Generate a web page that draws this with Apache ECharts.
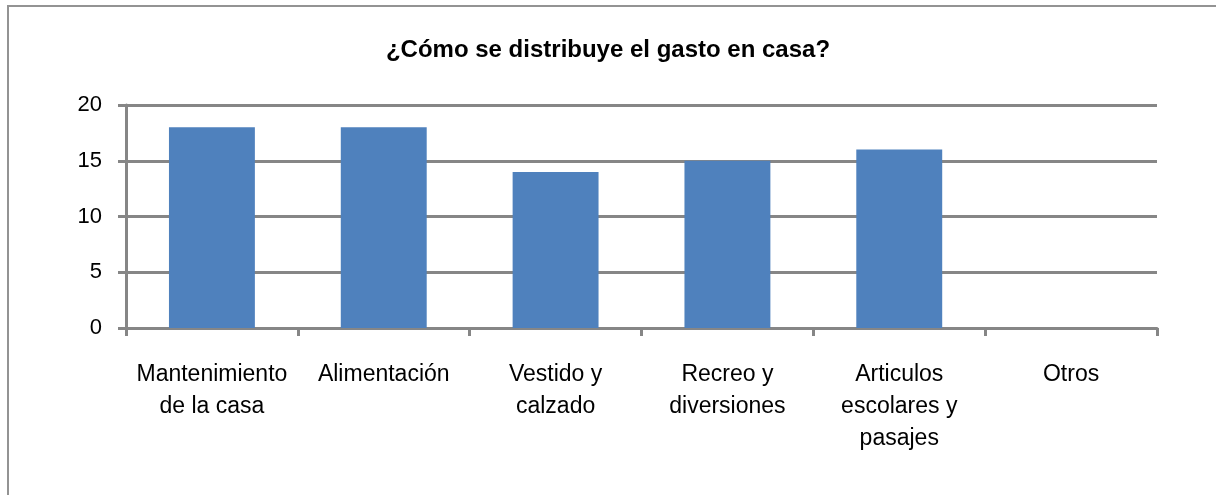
<!DOCTYPE html>
<html>
<head>
<meta charset="utf-8">
<script src="https://cdn.jsdelivr.net/npm/echarts@6/dist/echarts.min.js"></script>
<style>
html,body{margin:0;padding:0;background:#fff;}
#frame{position:absolute;left:7px;top:5px;width:1209px;height:490px;border-left:2px solid #939393;border-top:2px solid #939393;}
#c{position:absolute;left:0;top:0;width:1216px;height:495px;}
</style>
</head>
<body>
<div id="frame"></div>
<div id="c"></div>
<script>
const titleText = '¿Cómo se distribuye el gasto en casa?';
const categories = ['Mantenimiento\nde la casa', 'Alimentación', 'Vestido y\ncalzado', 'Recreo y\ndiversiones', 'Articulos\nescolares y\npasajes', 'Otros'];
const values = [18, 18, 14, 15, 16, 0];
const yTicks = { min: 0, max: 20, interval: 5 };

const chart = echarts.init(document.getElementById('c'), null, { renderer: 'canvas' });
const gray = '#868686';
chart.setOption({
  animation: false,
  backgroundColor: 'transparent',
  title: {
    text: titleText,
    left: 'center',
    top: 33,
    textStyle: { fontFamily: 'Liberation Sans', fontWeight: 'bold', fontSize: 24, color: '#000' }
  },
  grid: { left: 126, right: 59, top: 105, bottom: 167, containLabel: false },
  xAxis: {
    type: 'category',
    data: categories,
    axisLine: { show: true, lineStyle: { color: gray, width: 3 } },
    axisTick: { show: true, alignWithLabel: false, length: 8, lineStyle: { color: gray, width: 3 } },
    axisLabel: {
      interval: 0, margin: 31, color: '#000',
      fontFamily: 'Liberation Sans', fontSize: 23, lineHeight: 32
    },
    splitLine: { show: false }
  },
  yAxis: {
    type: 'value',
    min: yTicks.min, max: yTicks.max, interval: yTicks.interval,
    axisLine: { show: true, lineStyle: { color: gray, width: 3 } },
    axisTick: { show: true, length: 8, lineStyle: { color: gray, width: 3 } },
    axisLabel: { margin: 24, color: '#000', fontFamily: 'Liberation Sans', fontSize: 22 },
    splitLine: { show: true, lineStyle: { color: gray, width: 3 } }
  },
  series: [{
    type: 'bar',
    data: values,
    barCategoryGap: '50%',
    itemStyle: { color: '#4F81BD' },
    z: 3
  }]
});
</script>
</body>
</html>
